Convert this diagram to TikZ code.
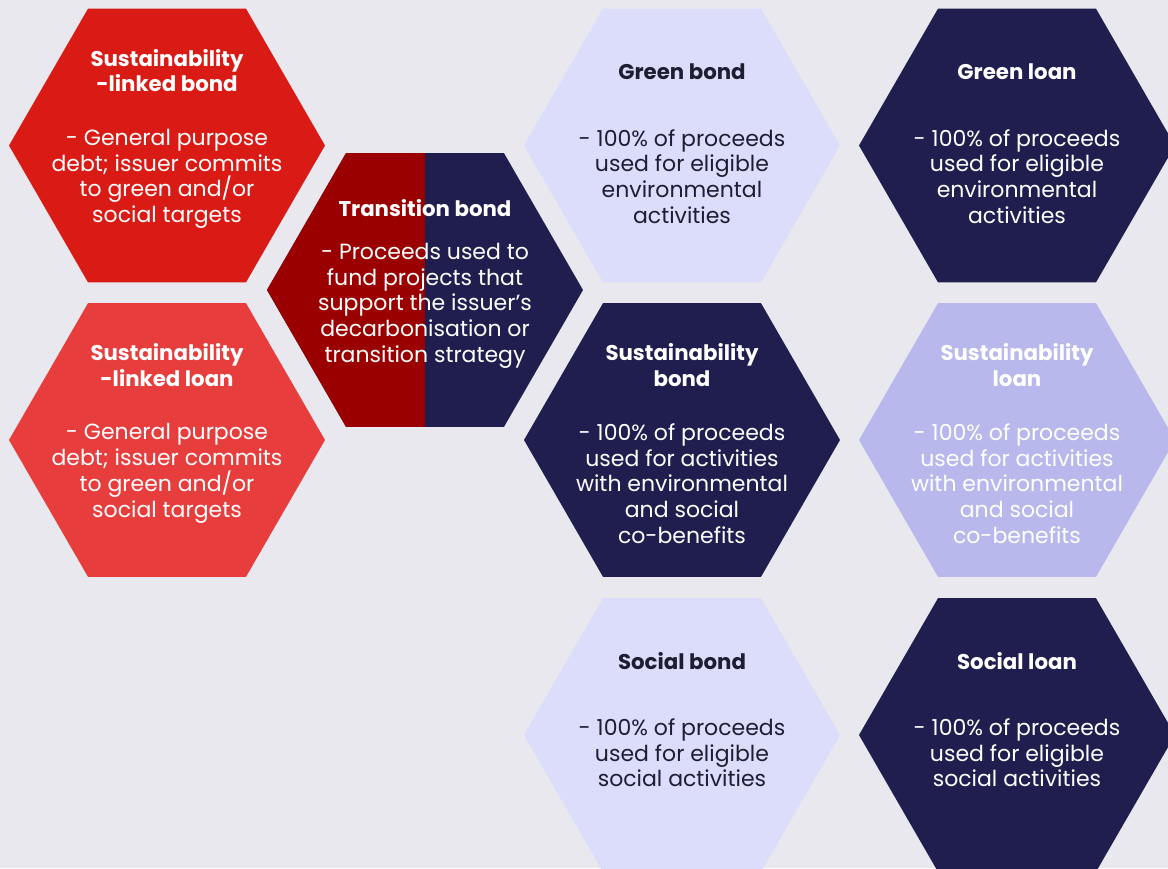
\documentclass[tikz,border=0pt]{standalone}
\usepackage{fontspec}
\setmainfont{Poppins}
\usetikzlibrary{shapes.geometric,positioning}
\definecolor{hxPaper}{HTML}{E8E8EE}
\definecolor{hxRed}{HTML}{DA1A14}
\definecolor{hxCoral}{HTML}{E83D3D}
\definecolor{hxDeep}{HTML}{9B0000}
\definecolor{hxNavy}{HTML}{201E4E}
\definecolor{hxMist}{HTML}{DCDCFB}
\definecolor{hxLilac}{HTML}{B8B8EC}
\definecolor{hxInk}{HTML}{1E1E32}
\tikzset{
  % Flat-topped hexagon, sized by its corner-to-corner width.
  hx/hex/.style={
    regular polygon, regular polygon sides=6, minimum size=316pt,
    inner sep=0pt, outer sep=0pt, draw=none
  },
  % Heading and description inside a hexagon.
  hx/title/.style={
    font=\fontsize{21.3}{25.5}\selectfont\bfseries, align=center, inner sep=0pt,
    execute at begin node=\strut, execute at end node=\strut
  },
  hx/body/.style={
    font=\fontsize{22}{25.7}\selectfont, align=center, inner sep=0pt,
    anchor=north, execute at begin node=\strut
  },
}

\begin{document}
\begin{tikzpicture}[x=1pt,y=-1pt,
  on/.style={text=white},
  off/.style={text=hxInk}]
  \fill[hxPaper] (0,0) rectangle (1168,868);
  \clip (0,0) rectangle (1168,868);
  % left pair: sustainability-linked
  \node[hx/hex, fill=hxRed]   (slb) at (167,145.5) {};
  \node[hx/hex, fill=hxCoral] (sll) at (167,440) {};
  % transition bond, half red, half navy
  \node[hx/hex, fill=hxNavy, path picture={
      \fill[hxDeep] (path picture bounding box.south west)
        rectangle (path picture bounding box.north);}] (trb) at (425,290) {};
  % use-of-proceeds bonds and loans
  \node[hx/hex, fill=hxMist]  (grb) at (682,145.5) {};
  \node[hx/hex, fill=hxNavy]  (grl) at (1017,145.5) {};
  \node[hx/hex, fill=hxNavy]  (sub) at (682,440) {};
  \node[hx/hex, fill=hxLilac] (sul) at (1017,440) {};
  \node[hx/hex, fill=hxMist]  (sob) at (682,735) {};
  \node[hx/hex, fill=hxNavy]  (sol) at (1017,735) {};

  \node[hx/title, on] (slb-t) at ([yshift=71pt]slb.center) {Sustainability\\-linked bond};
  \node[hx/body, on]  (slb-b) at ([yshift=16.5pt]slb.center)
       {- General purpose\\debt; issuer commits\\to green and/or\\social targets};
  \node[hx/title, on] (sll-t) at ([yshift=71pt]sll.center) {Sustainability\\-linked loan};
  \node[hx/body, on]  (sll-b) at ([yshift=16.5pt]sll.center)
       {- General purpose\\debt; issuer commits\\to green and/or\\social targets};
  \node[hx/title, on] (trb-t) at ([yshift=79pt]trb.center) {Transition bond};
  \node[hx/body, on]  (trb-b) at ([yshift=47pt]trb.center)
       {- Proceeds used to\\fund projects that\\support the issuer’s\\decarbonisation or\\transition strategy};
  \node[hx/title, off] (grb-t) at ([yshift=71pt]grb.center) {Green bond};
  \node[hx/body, off]  (grb-b) at ([yshift=16.5pt]grb.center)
       {- 100\% of proceeds\\used for eligible\\environmental\\activities};
  \node[hx/title, on] (grl-t) at ([yshift=71pt]grl.center) {Green loan};
  \node[hx/body, on]  (grl-b) at ([yshift=16.5pt]grl.center)
       {- 100\% of proceeds\\used for eligible\\environmental\\activities};
  \node[hx/title, on] (sub-t) at ([yshift=71pt]sub.center) {Sustainability\\bond};
  \node[hx/body, on]  (sub-b) at ([yshift=16.5pt]sub.center)
       {- 100\% of proceeds\\used for activities\\with environmental\\and social\\co-benefits};
  \node[hx/title, on] (sul-t) at ([yshift=71pt]sul.center) {Sustainability\\loan};
  \node[hx/body, on]  (sul-b) at ([yshift=16.5pt]sul.center)
       {- 100\% of proceeds\\used for activities\\with environmental\\and social\\co-benefits};
  \node[hx/title, off] (sob-t) at ([yshift=71pt]sob.center) {Social bond};
  \node[hx/body, off]  (sob-b) at ([yshift=16.5pt]sob.center)
       {- 100\% of proceeds\\used for eligible\\social activities};
  \node[hx/title, on] (sol-t) at ([yshift=71pt]sol.center) {Social loan};
  \node[hx/body, on]  (sol-b) at ([yshift=16.5pt]sol.center)
       {- 100\% of proceeds\\used for eligible\\social activities};
\end{tikzpicture}
\end{document}
